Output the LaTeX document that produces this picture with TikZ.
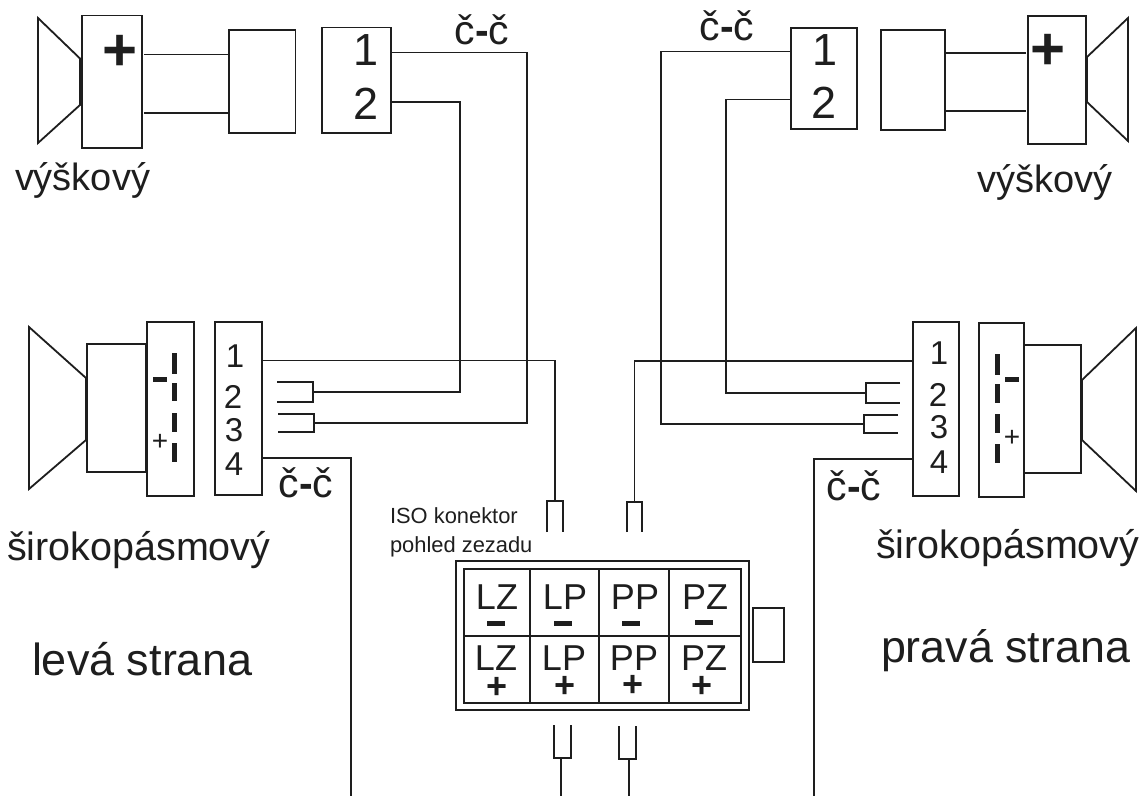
\documentclass[tikz,border=0pt]{standalone}
\usepackage{fontspec}
\setmainfont{Liberation Sans}
\definecolor{ink}{HTML}{1E1E1E}
\newcommand\rectnode[6][]{%
  \pgfmathsetmacro\rw{#5-#3}\pgfmathsetmacro\rh{#6-#4}%
  \pgfmathsetmacro\rx{(#5+#3)/2}\pgfmathsetmacro\ry{(#6+#4)/2}%
  \node[rectangle,inner sep=0pt,outer sep=0pt,minimum width=\rw pt,minimum height=\rh pt,#1] (#2) at (\rx,\ry) {};}
\newcommand\blk{č{\bfseries-}č}
\tikzset{
  boxst/.style={draw=ink,line width=1.9pt},
  thinbox/.style={draw=ink,line width=1.5pt},
  bar/.style={fill=ink},
  wire/.style={draw=ink,line width=1.5pt,line cap=butt,line join=miter},
  cone/.style={draw=ink,line width=1.8pt,line join=miter},
  lab/.style={text=ink,inner sep=0pt,outer sep=0pt,font=\fontsize{#1}{#1}\selectfont},
  sign/.style={text=ink,inner sep=0pt,outer sep=0pt,font=\bfseries\fontsize{#1}{#1}\selectfont},
}
\begin{document}
\begin{tikzpicture}[x=1pt,y=-1pt]
\useasboundingbox (0,0) rectangle (1146,796);
\fill[white] (0,0) rectangle (1146,796);
% ---- top left
\draw[cone] (38,18) -- (80,58.5) -- (80,105) -- (38,143) -- cycle;
\rectnode[boxst]{tlsp}{82}{15.5}{142}{148}
\rectnode[boxst]{tlmid}{229}{30}{295.5}{133}
\rectnode[thinbox]{tlcon}{322}{27.5}{391}{133}
\node[sign=60] (tlplus) at (120.5,53) {+};
\node[lab=45] (tl1) at (366,50) {1};
\node[lab=45] (tl2) at (366,104) {2};
\node[lab=38,anchor=base west] (tlname) at (15,190) {výškový};
\node[lab=41,anchor=base] (tlcc) at (482,44) {\blk};
% ---- top right
\draw[cone] (1087,57) -- (1128,18) -- (1128,141) -- (1087,102) -- cycle;
\rectnode[boxst]{trsp}{1028}{16}{1086}{144}
\rectnode[boxst]{trmid}{881}{30}{945}{130}
\rectnode[thinbox]{trcon}{791}{28}{857}{129}
\node[sign=60] (trplus) at (1048,52) {+};
\node[lab=45] (tr1) at (825,50) {1};
\node[lab=45] (tr2) at (824,103) {2};
\node[lab=38,anchor=base west] (trname) at (977,192) {výškový};
\node[lab=41,anchor=base] (trcc) at (727,40) {\blk};
% ---- bottom left
\draw[cone] (29,327) -- (86,378) -- (86,440) -- (29,489) -- cycle;
\rectnode[boxst]{blmag}{87}{344}{146}{472}
\rectnode[boxst]{blterm}{147}{322}{194}{496}
\rectnode[boxst]{blcon}{215}{322}{262}{495}
\rectnode[bar]{blb1}{172.2}{353}{177.2}{374}
\rectnode[bar]{blb2}{172.2}{383}{177.2}{401}
\rectnode[bar]{blb3}{172.2}{413}{177.2}{432}
\rectnode[bar]{blb4}{172.2}{443}{177.2}{462}
\rectnode[bar]{blminus}{153}{376.5}{167}{381.5}
\node[lab=28] (blplus) at (160,442) {+};
\node[lab=33] (bl1) at (235,356) {1};
\node[lab=33] (bl2) at (233,397) {2};
\node[lab=33] (bl3) at (234,430) {3};
\node[lab=33] (bl4) at (234,464) {4};
\node[lab=41,anchor=base] (blcc) at (306,497) {\blk};
\node[lab=39.5,anchor=base west] (blname) at (7,560) {širokopásmový};
\node[lab=45,anchor=base west] (blside) at (32,675) {levá strana};
% ---- bottom right
\draw[cone] (1082,380) -- (1136,328) -- (1136,491) -- (1082,440) -- cycle;
\rectnode[boxst]{brmag}{1024}{345}{1081}{473}
\rectnode[boxst]{brterm}{979}{323}{1024}{497}
\rectnode[boxst]{brcon}{913}{322}{959}{496}
\rectnode[bar]{brb1}{994.5}{354}{999.5}{375}
\rectnode[bar]{brb2}{994.5}{384}{999.5}{403}
\rectnode[bar]{brb3}{994.5}{414}{999.5}{433}
\rectnode[bar]{brb4}{994.5}{444}{999.5}{463}
\rectnode[bar]{brminus}{1005}{376.5}{1019}{381.5}
\node[lab=28] (brplus) at (1012,438) {+};
\node[lab=33] (br1) at (939,353) {1};
\node[lab=33] (br2) at (938,395) {2};
\node[lab=33] (br3) at (939,427) {3};
\node[lab=33] (br4) at (939,462) {4};
\node[lab=41,anchor=base] (brcc) at (854,500) {\blk};
\node[lab=39.5,anchor=base west] (brname) at (876,558) {širokopásmový};
\node[lab=44.8,anchor=base west] (brside) at (881,662) {pravá strana};
% ---- forks (open-ended terminals)
\rectnode{lf2}{277}{382}{313}{402}
\rectnode{lf3}{278}{414}{314}{432}
\rectnode{rf2}{866}{383}{900}{403}
\rectnode{rf3}{864}{415}{898}{433}
\rectnode{ftl}{547}{501}{563}{532}
\rectnode{ftr}{627}{502}{642}{532}
\rectnode{fbl}{554}{725}{571}{758}
\rectnode{fbr}{619}{726}{636}{759}
\foreach \f in {lf2,lf3}
  \draw[wire] (\f.north west) -- (\f.north east) -- (\f.south east) -- (\f.south west);
\foreach \f in {rf2,rf3}
  \draw[wire] (\f.north east) -- (\f.north west) -- (\f.south west) -- (\f.south east);
\foreach \f in {ftl,ftr}
  \draw[wire] (\f.south west) -- (\f.north west) -- (\f.north east) -- (\f.south east);
\foreach \f in {fbl,fbr}
  \draw[wire] (\f.north west) -- (\f.south west) -- (\f.south east) -- (\f.north east);
% ---- connector
\rectnode[boxst]{isoouter}{456}{561}{749}{710}
\rectnode[boxst]{isoinner}{464}{569}{741}{703}
\rectnode[thinbox]{isotab}{753}{608}{784}{662}
\draw[wire] (isoinner.west) -- (isoinner.east);
\foreach \x in {530,599,669}
  \draw[wire] (isoinner.north -| \x,0) -- (isoinner.south -| \x,0);
\node[lab=36] (a1) at (497,597) {LZ};
\node[lab=36] (a2) at (565,597) {LP};
\node[lab=36] (a3) at (635,597) {PP};
\node[lab=36] (a4) at (705,597) {PZ};
\node[lab=36] (b1) at (496,658) {LZ};
\node[lab=36] (b2) at (564,658) {LP};
\node[lab=36] (b3) at (634,658) {PP};
\node[lab=36] (b4) at (704,658) {PZ};
\rectnode[bar]{m1}{487}{620.5}{505}{626}
\rectnode[bar]{m2}{554}{620.5}{572}{626}
\rectnode[bar]{m3}{622}{620.5}{640}{626}
\rectnode[bar]{m4}{695}{619.5}{713}{625}
\node[sign=36] (p1) at (497,688) {+};
\node[sign=36] (p2) at (565,687) {+};
\node[sign=36] (p3) at (633,686) {+};
\node[sign=36] (p4) at (702,687) {+};
\node[lab=21.9,anchor=base west] (iso1) at (390,523) {ISO konektor};
\node[lab=21.9,anchor=base west] (iso2) at (390,552) {pohled zezadu};
% ---- coordinates of free ends
\coordinate (endL) at (351,796);
\coordinate (endR) at (814,796);
\coordinate (endA) at (561,796);
\coordinate (endB) at (629,796);
% ---- wires
\draw[wire,shorten <=2pt] (tlsp.east |- 0,54.5) -- (tlmid.west |- 0,54.5);
\draw[wire,shorten <=2pt] (tlsp.east |- 0,113) -- (tlmid.west |- 0,113);
\draw[wire,shorten >=2pt] (trmid.east |- 0,53) -- (trsp.west |- 0,53);
\draw[wire,shorten >=2pt] (trmid.east |- 0,111) -- (trsp.west |- 0,111);
\draw[wire] (tlcon.east |- 0,52.5) -| (lf3.east -| 527,0) -- (lf3.east);
\draw[wire] (tlcon.east |- 0,102) -| (lf2.east -| 460,0) -- (lf2.east);
\draw[wire] (trcon.west |- 0,51.7) -| (rf3.west -| 661,0) -- (rf3.west);
\draw[wire] (trcon.west |- 0,99.3) -| (rf2.west -| 726,0) -- (rf2.west);
\draw[wire] (blcon.east |- 0,360.5) -| (ftl.north);
\draw[wire] (brcon.west |- 0,361) -| (ftr.north);
\draw[wire] (blcon.east |- 0,458) -| (endL);
\draw[wire] (brcon.west |- 0,459) -| (endR);
\draw[wire] (fbl.south -| endA) -- (endA);
\draw[wire] (fbr.south -| endB) -- (endB);
\end{tikzpicture}
\end{document}
